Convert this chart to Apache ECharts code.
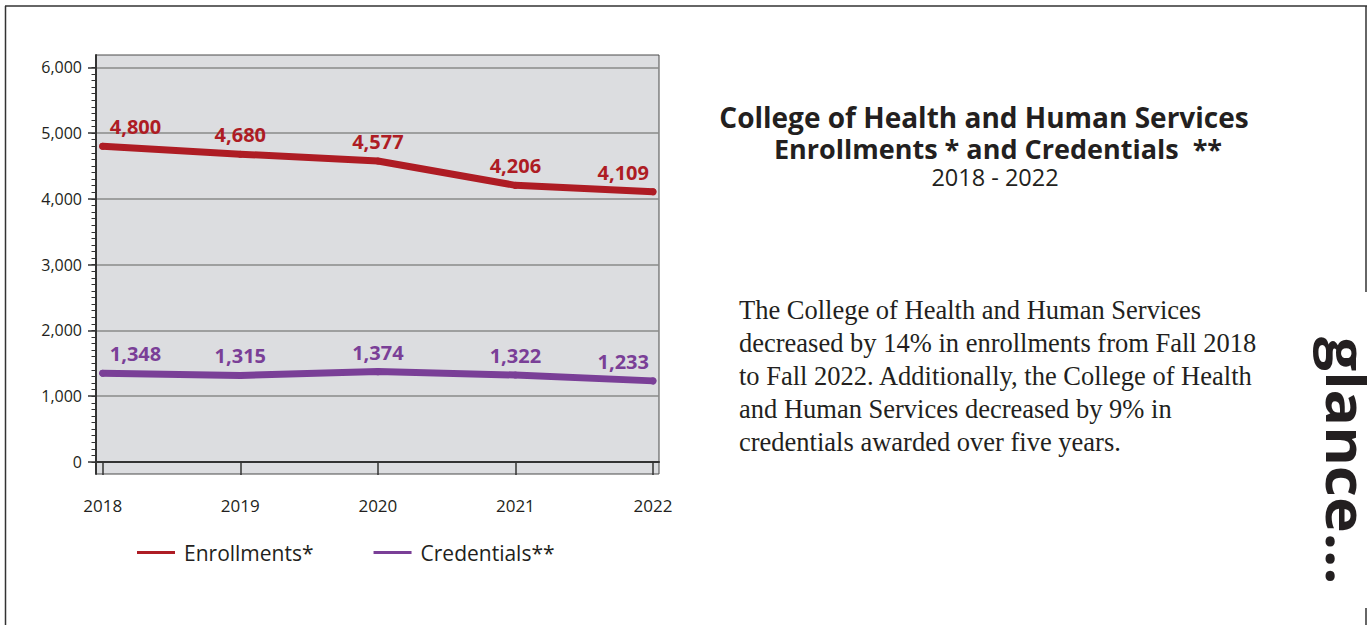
<!DOCTYPE html>
<html>
<head>
<meta charset="utf-8">
<script src="https://cdn.jsdelivr.net/npm/echarts@6/dist/echarts.min.js"></script>
<style>
  html, body { margin: 0; padding: 0; background: #fff; }
  #main { width: 1367px; height: 625px; }
</style>
</head>
<body>
<div id="main"></div>
<script>
// data
var years = [2018, 2019, 2020, 2021, 2022];
var enrollments = [4800, 4680, 4577, 4206, 4109];
var credentials = [1348, 1315, 1374, 1322, 1233];
var yTicks = [0, 1000, 2000, 3000, 4000, 5000, 6000];
var seriesNames = ['Enrollments*', 'Credentials**'];
var titleLines = ['College of Health and Human Services', 'Enrollments * and Credentials  **', '2018 - 2022'];
var bodyLines = [
  'The College of Health and Human Services',
  'decreased by 14% in enrollments from Fall 2018',
  'to Fall 2022. Additionally, the College of Health',
  'and Human Services decreased by 9% in',
  'credentials awarded over five years.'
];
var sideWord = 'glance...';

// small ticks every 100 between the labelled ones
var minorTicks = [];
for (var v = yTicks[0]; v <= yTicks[yTicks.length - 1]; v += 100) minorTicks.push(v);

var RED = '#ae1c24';
var PURPLE = '#7a3f97';
var FONT = '"Open Sans", "Noto Sans", sans-serif';

function fmt(n) { return n.toLocaleString('en-US'); }

function buildData(vals) {
  var last = vals.length - 1;
  return years.map(function (y, i) {
    var item = { value: [y, vals[i]] };
    if (i === 0) item.label = { align: 'left', offset: [7, 0] };
    if (i === last) item.label = { align: 'right', offset: [-4, 0] };
    return item;
  });
}

function lineSeries(name, vals, color) {
  return {
    name: name,
    type: 'line',
    data: buildData(vals),
    symbol: 'circle',
    symbolSize: 7,
    itemStyle: { color: color },
    lineStyle: { color: color, width: 7, cap: 'round', join: 'round' },
    label: {
      show: true,
      position: 'top',
      distance: 6,
      color: color,
      fontFamily: FONT,
      fontWeight: 'bold',
      fontSize: 20,
      formatter: function (p) { return fmt(p.value[1]); }
    },
    emphasis: { disabled: true },
    z: 3
  };
}

var chart = echarts.init(document.getElementById('main'), null, { renderer: 'svg' });

var option = {
  animation: false,
  backgroundColor: '#fff',
  grid: {
    left: 96,
    right: 1367 - 659,
    top: 55,
    bottom: 625 - 474,
    show: true,
    backgroundColor: '#dcdde0',
    borderColor: '#4a4a4a',
    borderWidth: 1,
    outerBoundsMode: 'none'
  },
  legend: {
    data: seriesNames.map(function (n) { return { name: n, icon: 'rect' }; }),
    left: 132,
    top: 537,
    itemWidth: 38,
    itemHeight: 3,
    itemGap: 60,
    selectedMode: false,
    textStyle: { color: '#231f20', fontFamily: FONT, fontSize: 21, padding: [0, 0, 0, 4] }
  },
  xAxis: {
    type: 'value',
    min: 2017.951,
    max: 2022.044,
    axisLine: { show: true, lineStyle: { color: '#333', width: 2 } },
    axisTick: { show: true, customValues: years, length: 13, lineStyle: { color: '#333', width: 1.5 } },
    axisLabel: {
      customValues: years,
      margin: 23,
      color: '#231f20',
      fontFamily: FONT,
      fontSize: 17,
      formatter: function (v) { return String(v); }
    },
    splitLine: { show: false }
  },
  yAxis: [{
    type: 'value',
    min: -183,
    max: 6188,
    axisLine: { show: true, lineStyle: { color: '#333', width: 2 } },
    axisTick: { show: true, customValues: yTicks, length: 8, lineStyle: { color: '#333', width: 1.5 } },
    axisLabel: {
      customValues: yTicks,
      margin: 14,
      color: '#231f20',
      fontFamily: FONT,
      fontSize: 16,
      formatter: function (v) { return fmt(v); }
    },
    splitLine: { show: true, lineStyle: { color: '#8a8a8a', width: 1.5 } }
  }, {
    type: 'value',
    min: -183,
    max: 6188,
    position: 'left',
    axisLine: { show: false },
    axisTick: { show: true, customValues: minorTicks, length: 4.5, lineStyle: { color: '#333', width: 1 } },
    axisLabel: { show: false },
    splitLine: { show: false }
  }],
  series: [
    lineSeries(seriesNames[0], enrollments, RED),
    lineSeries(seriesNames[1], credentials, PURPLE)
  ],
  graphic: [
    // page frame
    { type: 'line', shape: { x1: 5, y1: 6, x2: 1367, y2: 6 }, style: { stroke: '#333', lineWidth: 1.5 } },
    { type: 'line', shape: { x1: 5.5, y1: 6, x2: 5.5, y2: 625 }, style: { stroke: '#333', lineWidth: 1.5 } },
    { type: 'line', shape: { x1: 1366, y1: 6, x2: 1366, y2: 292 }, style: { stroke: '#333', lineWidth: 1.5 } },
    { type: 'line', shape: { x1: 1366, y1: 608, x2: 1366, y2: 625 }, style: { stroke: '#333', lineWidth: 1.5 } },
    // title block
    { type: 'text', x: 984, y: 117, style: { text: titleLines[0], fill: '#231f20', font: 'bold 28px ' + FONT, lineHeight: 28, textAlign: 'center', textVerticalAlign: 'middle' } },
    { type: 'text', x: 998, y: 148, style: { text: titleLines[1], fill: '#231f20', font: 'bold 27px ' + FONT, lineHeight: 27, textAlign: 'center', textVerticalAlign: 'middle' } },
    { type: 'text', x: 995, y: 177, style: { text: titleLines[2], fill: '#231f20', font: '23.5px ' + FONT, lineHeight: 24, textAlign: 'center', textVerticalAlign: 'middle' } },
    // paragraph
    { type: 'text', x: 739, y: 376, style: { text: bodyLines.join('\n'), fill: '#231f20', font: '26.5px "Liberation Serif", serif', lineHeight: 33, textAlign: 'left', textVerticalAlign: 'middle' } },
    // rotated side word, stretched a little along its length like the condensed original
    { type: 'text', x: 1348, y: 337, rotation: -Math.PI / 2, scaleX: 1.08, style: { text: sideWord, fill: '#231f20', font: 'bold 56px ' + FONT, lineHeight: 40, textAlign: 'left', textVerticalAlign: 'middle' } }
  ]
};

chart.setOption(option);
</script>
</body>
</html>
